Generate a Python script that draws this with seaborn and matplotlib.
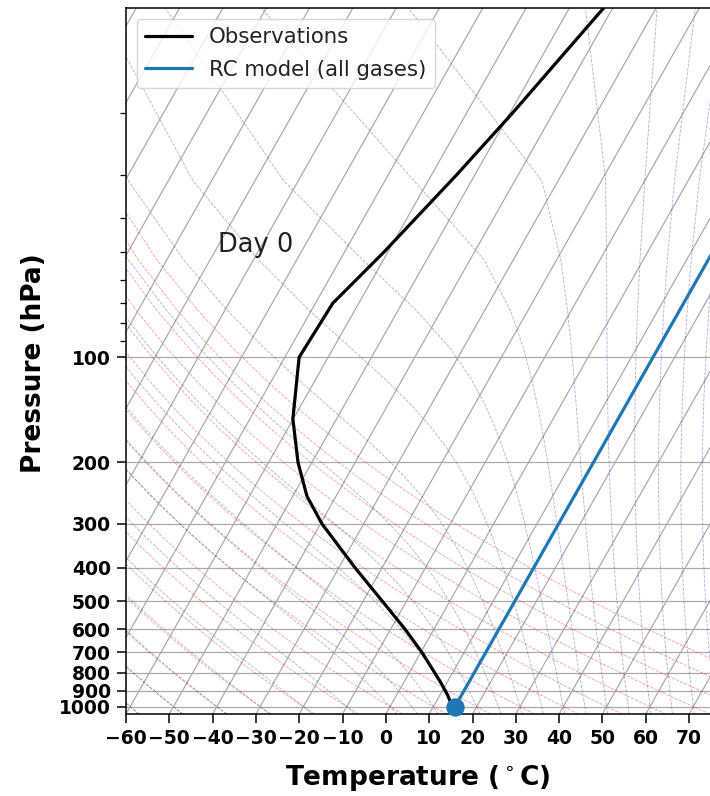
import numpy as np
import pandas as pd
import matplotlib
matplotlib.use("Agg")
import matplotlib.pyplot as plt
import matplotlib.transforms as mtransforms
from matplotlib.ticker import FixedLocator, NullFormatter
import seaborn as sns

# ---------------- data ----------------
obs_lev = [1000, 925, 850, 700, 600, 500, 400, 300, 250, 200, 150, 100, 70, 50, 30, 20, 10]
obs_temp = [14.4, 11.7, 8.4, 0.3, -6.7, -15.5, -26.3, -39.6, -46.7, -53.2,
            -60.1, -66.7, -66.0, -60.9, -54.2, -49.4, -42.1]
model_lev = [1000, 925, 850, 700, 600, 500, 400, 300, 250, 200, 150, 100, 70, 50, 30, 20, 10]
model_temp = [15.0, 15.0, 15.0, 15.0, 15.0, 15.0, 15.0, 15.0, 15.0, 15.0,
              15.0, 15.0, 15.0, 15.0, 15.0, 15.0, 15.0]
surface_lev = [1000]
surface_temp = [15.0]
x_ticks = [-60, -50, -40, -30, -20, -10, 0, 10, 20, 30, 40, 50, 60, 70]
p_ticks = [100, 200, 300, 400, 500, 600, 700, 800, 900, 1000]
x_limits = (-60, 100)
p_limits = (1050, 10)
day_label = "Day 0"
series_names = ["Observations", "RC model (all gases)"]

# ---------------- style ----------------
sns.set_style("ticks")
plt.rcParams['font.family'] = ['DejaVu Sans']
plt.rcParams['text.color'] = 'black'
plt.rcParams['axes.labelcolor'] = 'black'

W, H = 710, 796
fig = plt.figure(figsize=(W / 100, H / 100), dpi=100)
ax = fig.add_axes([126 / W, 82 / H, 693 / W, 706 / H])
ax.set_yscale('log')
ax.set_xlim(*x_limits)
ax.set_ylim(*p_limits)

# skew-x transform (30 degrees, applied in axes coordinates)
skew = ax.transScale + ax.transLimits + mtransforms.Affine2D().skew_deg(30, 0) + ax.transAxes

grid_col = '#ababab'
# isotherm grid lines (at every 10 degC, also those entering from the left side)
for t in np.arange(-170, 101, 10):
    ax.plot([t, t], list(p_limits), transform=skew, color=grid_col, lw=0.9, zorder=0.8)
ax.yaxis.grid(True, which='major', color=grid_col, lw=0.9, zorder=0.8)
ax.xaxis.grid(False)

# dry and moist adiabats (physical guide lines as in a MetPy SkewT)
Rd, Cp, Lv, eps = 287.04749, 1004.6662, 2.50084e6, 0.6219569
p_lines = np.linspace(p_limits[0], p_limits[1], 50)

for t0 in np.arange(x_limits[0], x_limits[1] + 1, 10):
    Tdry = (t0 + 273.15) * (p_lines / 1000.0) ** (Rd / Cp) - 273.15
    ax.plot(Tdry, p_lines, transform=skew, color='r', ls='--', lw=0.6, alpha=0.4, zorder=0.9)


def _es(T):
    return 6.112 * np.exp(17.67 * (T - 273.15) / (T - 29.65))


def _rate(lnp, T):
    p = np.exp(lnp)
    e = _es(T)
    d = p - e
    rs = np.where(d > 1e-3, eps * e / np.where(d > 1e-3, d, 1.0), np.nan)
    return (Rd * T + Lv * rs) / (Cp + Lv * Lv * rs * eps / (Rd * T ** 2))


def _integrate(T, p0, p1, n=30):
    h = (np.log(p1) - np.log(p0)) / n
    x = np.log(p0)
    for _ in range(n):
        k1 = _rate(x, T)
        k2 = _rate(x + h / 2, T + h / 2 * k1)
        k3 = _rate(x + h / 2, T + h / 2 * k2)
        k4 = _rate(x + h, T + h * k3)
        T = T + h / 6 * (k1 + 2 * k2 + 2 * k3 + k4)
        x += h
    return T


moist_t0 = np.concatenate((np.arange(x_limits[0], 0, 10), np.arange(0, x_limits[1] + 1, 5)))
with np.errstate(all='ignore'):
    Tm = np.full((len(moist_t0), len(p_lines)), np.nan)
    T = moist_t0 + 273.15
    pprev = 1000.0
    for i in range(len(p_lines)):
        if p_lines[i] < 1000.0:
            T = _integrate(T, pprev, p_lines[i])
            pprev = p_lines[i]
            Tm[:, i] = T
    T = moist_t0 + 273.15
    pprev = 1000.0
    for i in range(len(p_lines) - 1, -1, -1):
        if p_lines[i] >= 1000.0:
            T = _integrate(T, pprev, p_lines[i])
            pprev = p_lines[i]
            Tm[:, i] = T
for row in Tm:
    ax.plot(row - 273.15, p_lines, transform=skew, color='#3030c0', ls='--', lw=0.6,
            alpha=0.4, zorder=0.9)

# ---------------- profiles ----------------
df_obs = pd.DataFrame({"T": obs_temp, "p": obs_lev})
df_mod = pd.DataFrame({"T": model_temp, "p": model_lev})
sns.lineplot(data=df_obs, x="T", y="p", orient="y", estimator=None, color='black',
             lw=2.3, label=series_names[0], transform=skew, ax=ax, zorder=3)
sns.lineplot(data=df_mod, x="T", y="p", orient="y", estimator=None, color='#1f77b4',
             lw=2.3, label=series_names[1], transform=skew, ax=ax, zorder=3)
sns.scatterplot(x=surface_temp, y=surface_lev, s=175, color='#1f77b4', linewidth=0,
                transform=skew, ax=ax, zorder=4, clip_on=False)

# ---------------- axes cosmetics ----------------
ax.set_xlim(*x_limits)
ax.set_ylim(*p_limits)
ax.set_xticks(x_ticks, labels=[str(t).replace('-', '\u2212') for t in x_ticks],
              fontweight='bold', fontsize=13.5)
ax.yaxis.set_major_locator(FixedLocator(p_ticks))
ax.set_yticks(p_ticks, labels=[str(p) for p in p_ticks], fontweight='bold', fontsize=13.5)
ax.yaxis.set_minor_formatter(NullFormatter())
ax.tick_params(axis='both', which='major', length=6.5, width=1.1, pad=4.5, color='black',
               labelcolor='black', top=False, right=False)
ax.tick_params(axis='y', which='minor', length=4, width=0.9, color='black', right=False)
ax.tick_params(axis='x', which='minor', bottom=False, top=False)
for s in ax.spines.values():
    s.set_color('black')
    s.set_linewidth(1.1)

ax.set_xlabel('Temperature ($^\\circ$C)', fontsize=19, fontweight='bold', color='black')
ax.xaxis.set_label_coords(0.4214, -0.069)
ax.set_ylabel('Pressure (hPa)', fontsize=19, fontweight='bold', color='black')
ax.yaxis.set_label_coords(-0.114, 0.497)

ax.text(0.1328, 0.6544, day_label, transform=ax.transAxes, fontsize=18.5,
        ha='left', va='baseline', color='#222222')

leg = ax.legend(loc='upper left', fontsize=15.3, handlelength=2.2, framealpha=0.8,
                labelspacing=0.6)
for t in leg.get_texts():
    t.set_color('#222222')

fig.savefig('out.png', dpi=100)
